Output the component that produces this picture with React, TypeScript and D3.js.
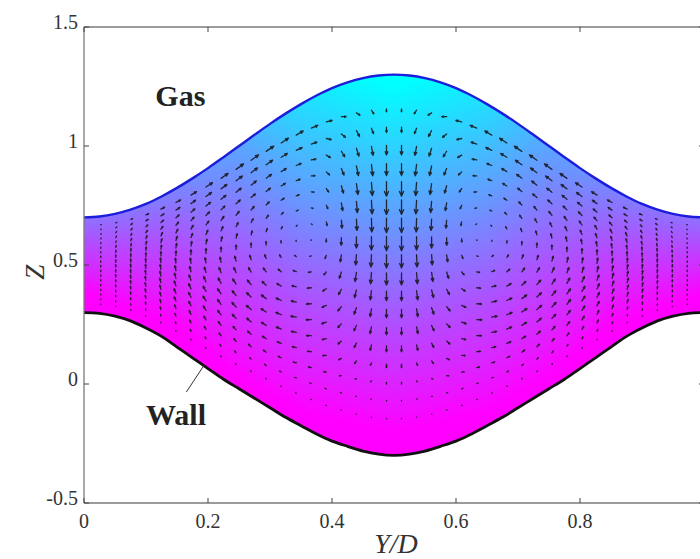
import React from 'react';
import * as d3 from 'd3';

const width = 700;
const height = 559;
const marginLeft = 84;
const marginTop = 27;
const plotW = 620;
const plotH = 476;

// interface (gas side) and wall heights, Z, sampled every 0.025 in Y/D
const gridY = d3.range(41).map(i => i / 40);
const surfaceZ = [
  0.70, 0.704, 0.715, 0.733, 0.757, 0.788, 0.824, 0.864, 0.907, 0.953, 1.0,
  1.047, 1.093, 1.136, 1.176, 1.212, 1.243, 1.267, 1.285, 1.296, 1.30,
  1.296, 1.285, 1.267, 1.243, 1.212, 1.176, 1.136, 1.093, 1.047, 1.0,
  0.953, 0.907, 0.864, 0.824, 0.788, 0.757, 0.733, 0.715, 0.704, 0.70,
];
const wallZ = [
  0.30, 0.297, 0.285, 0.265, 0.235, 0.2, 0.155, 0.11, 0.065, 0.02, -0.02,
  -0.06, -0.1, -0.14, -0.175, -0.21, -0.24, -0.262, -0.282, -0.295, -0.30,
  -0.295, -0.282, -0.262, -0.24, -0.21, -0.175, -0.14, -0.1, -0.06, -0.02,
  0.02, 0.065, 0.11, 0.155, 0.2, 0.235, 0.265, 0.285, 0.297, 0.30,
];

const xTicks = [0, 0.2, 0.4, 0.6, 0.8, 1];
const xTickLabels = ['0', '0.2', '0.4', '0.6', '0.8', '1'];
const yTicks = [-0.5, 0, 0.5, 1, 1.5];
const yTickLabels = ['-0.5', '0', '0.5', '1', '1.5'];

// colour shading: Z where it is magenta, and Z span up to cyan (left half, mirrored)
const shadeY = [0, 0.15, 0.25, 0.35, 0.5];
const shadeLow = [0.38, 0.25, 0.03, -0.12, -0.2];
const shadeSpan = [0.7, 1.1, 1.5, 1.5, 1.45];

// quiver grid: 40 columns across, 18 rows across the film (fraction from wall)
const colY = d3.range(40).map(k => 0.027 + k * 0.946 / 39);
const rowS = d3.range(18).map(j => 0.095 + j * 0.048);
// velocity arrows (px) for the left-half columns, rows bottom -> top
const uCols = [
  '0 0 0 0 0 0 0 0 0 0 0 0.1 0.1 0.2 0.3 0.4 0.4 0.5',
  '0 0 -0.1 -0.1 -0.1 -0.1 -0.1 -0.1 -0.1 0 0 0.2 0.3 0.4 0.6 0.7 0.9 1',
  '0 -0.1 -0.2 -0.2 -0.3 -0.3 -0.3 -0.2 -0.2 -0.1 0 0.2 0.4 0.6 0.8 1.1 1.3 1.5',
  '-0.1 -0.2 -0.3 -0.5 -0.6 -0.6 -0.6 -0.5 -0.3 -0.2 0.1 0.3 0.6 1 1.3 1.6 2 2.3',
  '-0.1 -0.3 -0.6 -0.8 -0.9 -1 -1 -0.8 -0.6 -0.3 0.1 0.5 0.9 1.3 1.7 2.2 2.6 3.1',
  '-0.2 -0.5 -0.8 -1.1 -1.4 -1.5 -1.4 -1.2 -0.8 -0.5 0.1 0.6 1.1 1.6 2.2 2.7 3.3 3.9',
  '-0.2 -0.6 -1.1 -1.5 -1.8 -2 -1.9 -1.6 -1.1 -0.6 0 0.7 1.3 1.9 2.6 3.2 3.9 4.6',
  '-0.3 -0.8 -1.4 -1.9 -2.3 -2.5 -2.4 -2 -1.4 -0.8 0 0.8 1.5 2.3 3 3.8 4.6 5.4',
  '-0.3 -0.9 -1.7 -2.3 -2.8 -3 -2.9 -2.4 -1.7 -0.9 0 0.9 1.6 2.4 3.2 4.1 4.9 5.8',
  '-0.4 -1.1 -1.9 -2.6 -3.2 -3.5 -3.3 -2.8 -1.9 -1.1 0 0.9 1.7 2.6 3.5 4.3 5.3 6.2',
  '-0.4 -1.2 -2.2 -3 -3.7 -4 -3.8 -3.2 -2.2 -1.2 -0.1 0.9 1.7 2.6 3.5 4.3 5.3 6.2',
  '-0.4 -1.3 -2.4 -3.2 -4 -4.3 -4.1 -3.4 -2.4 -1.3 -0.1 0.9 1.8 2.6 3.5 4.4 5.4 6.3',
  '-0.5 -1.4 -2.5 -3.4 -4.1 -4.5 -4.3 -3.6 -2.5 -1.4 -0.2 0.9 1.7 2.5 3.4 4.2 5.1 6',
  '-0.5 -1.4 -2.5 -3.4 -4.1 -4.5 -4.3 -3.6 -2.5 -1.4 -0.2 0.9 1.6 2.4 3.2 4.1 4.9 5.8',
  '-0.4 -1.3 -2.4 -3.2 -4 -4.3 -4.1 -3.4 -2.4 -1.3 -0.2 0.8 1.5 2.3 3.1 3.9 4.7 5.5',
  '-0.4 -1.1 -2.1 -2.9 -3.5 -3.8 -3.6 -3 -2.1 -1.1 -0.1 0.7 1.3 2 2.7 3.4 4.1 4.8',
  '-0.3 -0.9 -1.7 -2.3 -2.8 -3 -2.9 -2.4 -1.7 -0.9 -0.1 0.6 1.1 1.7 2.2 2.8 3.4 4',
  '-0.2 -0.6 -1.1 -1.5 -1.8 -2 -1.9 -1.6 -1.1 -0.6 0 0.5 0.8 1.3 1.7 2.1 2.6 3',
  '-0.1 -0.4 -0.7 -0.9 -1.1 -1.2 -1.1 -1 -0.7 -0.4 0 0.3 0.6 0.8 1.1 1.4 1.7 2',
  '0 0 0 0 0 0 0 0 0 0 0 0 0 0 0 0 0 0',
].map(s => s.split(' ').map(Number));
const vCols = [
  '0.2 0.4 0.7 0.8 1 1.1 1.2 1.2 1.2 1.2 1.1 1.1 1 0.8 0.7 0.5 0.4 0.2',
  '0.3 0.7 1.1 1.4 1.6 1.8 1.9 2 2 2 1.9 1.8 1.6 1.4 1.2 0.9 0.6 0.3',
  '0.4 1 1.5 2 2.3 2.5 2.7 2.8 2.8 2.7 2.6 2.5 2.2 2 1.6 1.3 1 0.6',
  '0.5 1.2 1.9 2.5 2.9 3.2 3.4 3.5 3.5 3.4 3.3 3.1 2.8 2.5 2 1.6 1.3 1',
  '0.6 1.4 2.2 2.8 3.3 3.6 3.8 4 4 3.9 3.8 3.5 3.2 2.8 2.4 2 1.7 1.6',
  '0.6 1.5 2.4 3 3.5 3.9 4.1 4.3 4.3 4.2 4 3.8 3.4 3 2.6 2.3 2.2 2.2',
  '0.7 1.6 2.5 3.2 3.7 4 4.3 4.5 4.5 4.4 4.2 4 3.6 3.2 2.9 2.7 2.8 2.9',
  '0.7 1.6 2.5 3.2 3.7 4 4.3 4.5 4.5 4.4 4.2 4 3.6 3.3 3.1 3.1 3.4 3.6',
  '0.7 1.5 2.4 3.1 3.6 4 4.2 4.4 4.4 4.3 4.1 3.9 3.6 3.3 3.2 3.4 3.7 4.1',
  '0.6 1.5 2.3 2.9 3.4 3.8 4 4.2 4.2 4.1 3.9 3.7 3.4 3.2 3.2 3.5 4 4.5',
  '0.6 1.3 2.1 2.7 3.1 3.4 3.6 3.8 3.8 3.7 3.6 3.3 3.1 3 3.1 3.5 4 4.5',
  '0.5 1.1 1.8 2.2 2.6 2.9 3.1 3.2 3.2 3.1 3 2.8 2.6 2.6 2.8 3.2 3.8 4.4',
  '0.3 0.8 1.2 1.5 1.8 2 2.1 2.2 2.2 2.2 2.1 1.9 1.8 1.8 2.1 2.6 3.2 4',
  '0.2 0.4 0.6 0.7 0.8 0.9 1 1 1 1 0.9 0.9 0.8 0.9 1.2 1.7 2.4 3.5',
  '0.2 0.5 0.6 0.3 0 -0.2 -0.3 -0.4 -0.5 -0.5 -0.5 -0.5 -0.4 -0.2 0.2 0.8 1.5 2.2',
  '0.2 0.4 0.3 -0.2 -0.8 -1.4 -1.7 -2 -2.4 -2.7 -2.9 -3 -3 -2.9 -2.6 -2 -0.9 1.2',
  '0.1 0.2 -0.2 -1.2 -2.5 -3.1 -3.7 -4.4 -5.3 -5.9 -6.4 -6.5 -6.4 -6.1 -5.4 -4.6 -2.8 0',
  '0 0 -0.5 -2.2 -3.6 -4.5 -5.4 -6.3 -7.7 -8.6 -9.3 -9.4 -9.3 -9 -8 -6.5 -5 -2',
  '0 -0.2 -0.7 -2 -4.6 -5.6 -6.6 -7.6 -9.3 -10.3 -11.2 -11.2 -11.2 -11 -9.5 -7.5 -4.5 -3',
  '0 -0.5 -1.5 -3 -5 -6 -7 -8 -10 -11 -12 -12 -12 -12 -10 -8 -4.5 -2.5',
].map(s => s.split(' ').map(Number));
const arrowScale = 1.2;

// annotations in data coordinates
const gasLabel = { Y: 0.115, Z: 1.17 };
const wallLabel = { Y: 0.1, Z: -0.172 };
const wallLeader = [[0.165, -0.034], [0.194, 0.08]];

export default function App() {
  const x = d3.scaleLinear().domain([0, 1]).range([marginLeft, marginLeft + plotW]);
  const y = d3.scaleLinear().domain([-0.5, 1.5]).range([marginTop + plotH, marginTop]);

  const area = d3.area<number>()
    .x((_, i) => x(gridY[i]))
    .y0((_, i) => y(wallZ[i]))
    .y1((_, i) => y(surfaceZ[i]))
    .curve(d3.curveCatmullRom);
  const boundary = d3.line<number>()
    .x((_, i) => x(gridY[i]))
    .y(d => y(d))
    .curve(d3.curveCatmullRom);

  // shading strips
  const low = d3.scaleLinear().domain(shadeY).range(shadeLow).clamp(true);
  const span = d3.scaleLinear().domain(shadeY).range(shadeSpan).clamp(true);
  const nStrips = 124;
  const strips = d3.range(nStrips).map(i => {
    const y0 = i / nStrips, y1 = (i + 1) / nStrips;
    const c = (y0 + y1) / 2;
    const m = c <= 0.5 ? c : 1 - c;
    const lo = low(m);
    return { i, x0: x(y0), x1: x(y1), ya: y(lo), yb: y(lo + span(m)) };
  });

  // quiver
  const topAt = d3.scaleLinear().domain(gridY).range(surfaceZ);
  const wallAt = d3.scaleLinear().domain(gridY).range(wallZ);
  const arrows: string[] = [];
  colY.forEach((Y, k) => {
    const src = k < 20 ? k : 39 - k;
    const sign = k < 20 ? 1 : -1;
    const zb = wallAt(Y), zt = topAt(Y);
    rowS.forEach((s, j) => {
      const bx = x(Y);
      const by = y(zb + s * (zt - zb));
      const du = uCols[src][j] * sign * arrowScale;
      const dv = -vCols[src][j] * arrowScale;
      const tx = bx + du, ty = by + dv;
      const p = d3.path();
      p.moveTo(bx, by);
      p.lineTo(tx, ty);
      const len = Math.hypot(du, dv);
      if (len > 1.8) {
        const hl = 0.33 * len, hw = 0.14 * len;
        const ux = du / len, uy = dv / len;
        p.moveTo(tx - ux * hl - uy * hw, ty - uy * hl + ux * hw);
        p.lineTo(tx, ty);
        p.lineTo(tx - ux * hl + uy * hw, ty - uy * hl - ux * hw);
      }
      arrows.push(p.toString());
    });
  });

  const serif = '"Liberation Serif", "Times New Roman", serif';
  const axisColor = '#7a7a7a';

  return (
    <svg width={width} height={height} style={{ position: 'absolute', left: 0, top: 0, background: '#fff' }}
      fontFamily={serif}>
      <defs>
        <clipPath id="film">
          <path d={area(gridY) ?? ''} />
        </clipPath>
        {strips.map(s => (
          <linearGradient key={s.i} id={`sh${s.i}`} gradientUnits="userSpaceOnUse"
            x1={0} x2={0} y1={s.ya} y2={s.yb}>
            <stop offset="0" stopColor="#ff00ff" />
            <stop offset="1" stopColor="#00ffff" />
          </linearGradient>
        ))}
      </defs>

      <g clipPath="url(#film)">
        {strips.map(s => (
          <rect key={s.i} x={s.x0 - 0.3} width={s.x1 - s.x0 + 0.6}
            y={y(1.4)} height={y(-0.4) - y(1.4)} fill={`url(#sh${s.i})`} />
        ))}
      </g>

      <g stroke="#161616" strokeWidth={1.3} strokeOpacity={0.88} fill="none" strokeLinecap="round"
        strokeLinejoin="round">
        {arrows.map((d, i) => <path key={i} d={d} />)}
      </g>

      <path d={boundary(surfaceZ) ?? ''} fill="none" stroke="#1c1cdc" strokeWidth={2.4} />
      <path d={boundary(wallZ) ?? ''} fill="none" stroke="#111" strokeWidth={2.8} />

      {/* frame */}
      <g stroke={axisColor} strokeWidth={1.3} fill="none">
        <line x1={x(0)} x2={x(1)} y1={y(-0.5)} y2={y(-0.5)} />
        <line x1={x(0)} x2={x(1)} y1={y(1.5)} y2={y(1.5)} />
        <line x1={x(0)} x2={x(0)} y1={y(-0.5)} y2={y(1.5)} />
        <line x1={x(1)} x2={x(1)} y1={y(-0.5)} y2={y(1.5)} />
      </g>
      <g stroke="#444" strokeWidth={1}>
        {xTicks.map(t => (
          <g key={t}>
            <line x1={x(t)} x2={x(t)} y1={y(-0.5)} y2={y(-0.5) - 5} />
            <line x1={x(t)} x2={x(t)} y1={y(1.5)} y2={y(1.5) + 5} />
          </g>
        ))}
        {yTicks.map(t => (
          <g key={t}>
            <line x1={x(0)} x2={x(0) + 5} y1={y(t)} y2={y(t)} />
            <line x1={x(1)} x2={x(1) - 5} y1={y(t)} y2={y(t)} />
          </g>
        ))}
      </g>
      <g fill="#333" fontSize={20}>
        {xTicks.map((t, i) => (
          <text key={t} x={x(t)} y={y(-0.5) + 25} textAnchor="middle">{xTickLabels[i]}</text>
        ))}
        {yTicks.map((t, i) => (
          <text key={t} x={x(0) - 6} y={y(t) + 2} textAnchor="end">{yTickLabels[i]}</text>
        ))}
      </g>

      <text x={396} y={553} textAnchor="middle" fontSize={28} fontStyle="italic" fill="#333">Y/D</text>
      <text transform={`translate(44,${y(0.47)}) rotate(-90)`} textAnchor="middle" fontSize={27}
        fontStyle="italic" fill="#333">Z</text>

      <text x={x(gasLabel.Y)} y={y(gasLabel.Z)} fontSize={30} fontWeight="bold" fill="#222">Gas</text>
      <text x={x(wallLabel.Y)} y={y(wallLabel.Z)} fontSize={30} fontWeight="bold" fill="#222">Wall</text>
      <line x1={x(wallLeader[0][0])} y1={y(wallLeader[0][1])} x2={x(wallLeader[1][0])} y2={y(wallLeader[1][1])}
        stroke="#333" strokeWidth={1} />
    </svg>
  );
}
